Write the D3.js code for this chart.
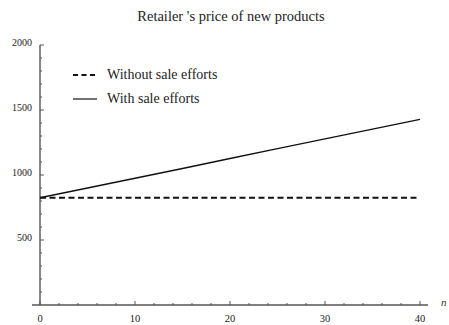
<!DOCTYPE html>
<html>
<head>
<meta charset="utf-8">
<script src="https://cdn.jsdelivr.net/npm/d3@7"></script>
<style>
  body { margin: 0; background: #fff; }
  svg { display: block; font-family: "Liberation Serif", "DejaVu Serif", serif; }
</style>
</head>
<body>
<div id="chart"></div>
<script>
// Values
const nValues = [0, 5, 10, 15, 20, 25, 30, 35, 40];
const withSale = [825, 900, 975, 1050, 1127, 1203, 1278, 1353, 1428];
const withoutSale = [825, 825, 825, 825, 825, 825, 825, 825, 825];
const xTicks = [0, 10, 20, 30, 40];
const yTicks = [500, 1000, 1500, 2000];
const legendLabels = ["Without sale efforts", "With sale efforts"];

const width = 449, height = 325;
const svg = d3.select("#chart").append("svg")
    .attr("width", width)
    .attr("height", height);

// scales
const x = d3.scaleLinear().domain([0, 40]).range([40, 420]);
const y = d3.scaleLinear().domain([0, 2000]).range([305, 45]);

const axisColor = "#555";

// title
svg.append("text")
    .attr("x", 231).attr("y", 21)
    .attr("text-anchor", "middle")
    .attr("font-size", 14.5)
    .attr("fill", "#222")
    .text("Retailer 's price of new products");

// x axis line (extends a little left of the y axis)
svg.append("line")
    .attr("x1", 32).attr("x2", 428)
    .attr("y1", y(0)).attr("y2", y(0))
    .attr("stroke", axisColor).attr("stroke-width", 1.4);

// y axis line
svg.append("line")
    .attr("x1", x(0)).attr("x2", x(0))
    .attr("y1", y(0)).attr("y2", y(2000))
    .attr("stroke", axisColor).attr("stroke-width", 1.4);

// x ticks: minor every 2, major every 10, drawn inward
svg.append("g").selectAll("line")
    .data(d3.range(0, 41, 2))
    .join("line")
    .attr("x1", d => x(d)).attr("x2", d => x(d))
    .attr("y1", y(0))
    .attr("y2", d => y(0) - (d % 10 === 0 ? 4 : 2))
    .attr("stroke", axisColor).attr("stroke-width", 1);

svg.append("g").selectAll("text")
    .data(xTicks)
    .join("text")
    .attr("x", d => x(d))
    .attr("y", 322)
    .attr("text-anchor", "middle")
    .attr("font-size", 10.5)
    .attr("fill", "#222")
    .text(d => d);

// y ticks: minor every 100, major every 500
svg.append("g").selectAll("line")
    .data(d3.range(100, 2001, 100))
    .join("line")
    .attr("x1", x(0))
    .attr("x2", d => x(0) + (d % 500 === 0 ? 4 : 2))
    .attr("y1", d => y(d)).attr("y2", d => y(d))
    .attr("stroke", axisColor).attr("stroke-width", 1);

svg.append("g").selectAll("text")
    .data(yTicks)
    .join("text")
    .attr("x", 32)
    .attr("y", d => y(d) + 1)
    .attr("text-anchor", "end")
    .attr("font-size", 10)
    .attr("fill", "#222")
    .text(d => d);

// axis label n
svg.append("text")
    .attr("x", 441).attr("y", 306)
    .attr("font-size", 11)
    .attr("font-style", "italic")
    .attr("fill", "#333")
    .text("n");

// lines
const line = d3.line()
    .x((d, i) => x(nValues[i]))
    .y(d => y(d));

svg.append("path")
    .datum(withoutSale)
    .attr("d", line)
    .attr("fill", "none")
    .attr("stroke", "#111")
    .attr("stroke-width", 2.2)
    .attr("stroke-dasharray", "6,3.5");

svg.append("path")
    .datum(withSale)
    .attr("d", line)
    .attr("fill", "none")
    .attr("stroke", "#111")
    .attr("stroke-width", 1.4);

// legend
const legend = svg.append("g");
legendLabels.forEach((label, i) => {
    const ly = 75 + i * 24;
    legend.append("line")
        .attr("x1", 73).attr("x2", 97)
        .attr("y1", ly).attr("y2", ly)
        .attr("stroke", "#111")
        .attr("stroke-width", i === 0 ? 2.2 : 1.2)
        .attr("stroke-dasharray", i === 0 ? "5,3.5" : null);
    legend.append("text")
        .attr("x", 107).attr("y", ly + 4)
        .attr("font-size", 14)
        .attr("fill", "#222")
        .text(label);
});
</script>
</body>
</html>
